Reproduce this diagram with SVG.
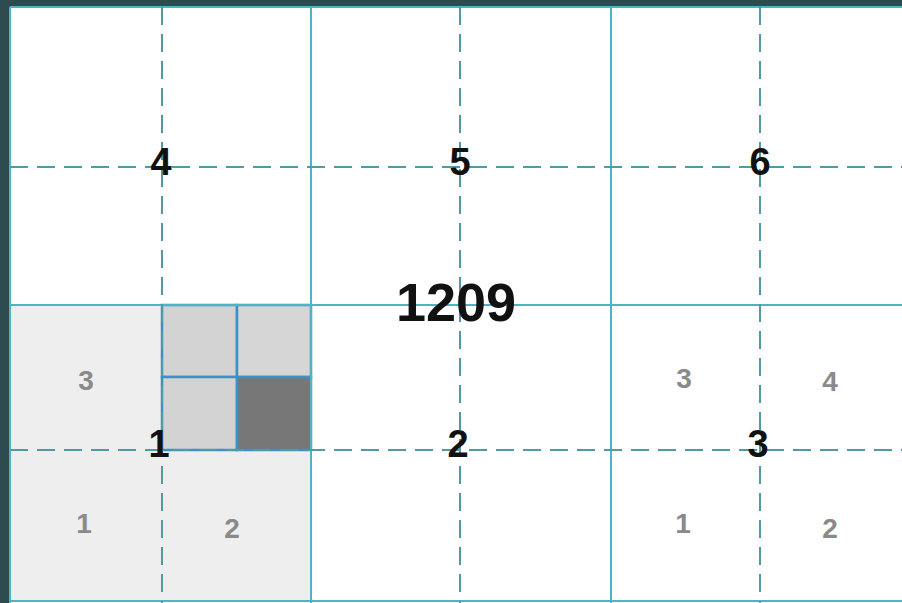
<svg xmlns="http://www.w3.org/2000/svg" width="902" height="603" viewBox="0 0 902 603">
<style>
.solid{stroke:#4fb3c6;stroke-width:2;fill:none}
.dash{stroke:#4f9aa3;stroke-width:2;stroke-dasharray:18 9;fill:none}
.big{font-family:"Liberation Sans",Arial,sans-serif;font-weight:bold;font-size:38px;fill:#111;text-anchor:middle}
.title{font-family:"Liberation Sans",Arial,sans-serif;font-weight:bold;font-size:54px;fill:#111;text-anchor:middle}
.small{font-family:"Liberation Sans",Arial,sans-serif;font-weight:bold;font-size:28px;fill:#8a8a8a;text-anchor:middle}
.sub{stroke:#3d8fc4;stroke-width:2.5}
</style>
<rect width="902" height="603" fill="#2e4c4f"/>
<rect x="10" y="7" width="892" height="596" fill="#ffffff"/>
<g id="shaded">
<rect x="10" y="305" width="301" height="296" fill="#eeeeee"/>
<g id="subgrid">
<rect class="sub" x="162" y="305" width="75" height="72" fill="#d3d3d3"/>
<rect class="sub" x="237" y="305" width="74" height="72" fill="#d6d6d6"/>
<rect class="sub" x="162" y="377" width="75" height="73" fill="#d3d3d3"/>
<rect class="sub" x="237" y="377" width="74" height="73" fill="#777777"/>
</g>
</g>
<g id="grid">
<line class="solid" x1="10" y1="7" x2="10" y2="603"/>
<line class="solid" x1="311" y1="7" x2="311" y2="603"/>
<line class="solid" x1="611" y1="7" x2="611" y2="603"/>
<line class="solid" x1="10" y1="305" x2="902" y2="305"/>
<line class="solid" x1="10" y1="601" x2="902" y2="601"/>
<line class="solid" x1="10" y1="7" x2="902" y2="7"/>
<line class="dash" x1="162" y1="7" x2="162" y2="603"/>
<line class="dash" x1="460" y1="7" x2="460" y2="603"/>
<line class="dash" x1="760" y1="7" x2="760" y2="603"/>
<line class="dash" x1="10" y1="167" x2="902" y2="167"/>
<line class="dash" x1="10" y1="450" x2="902" y2="450"/>
</g>
<g id="labels">
<text class="big" x="161" y="175">4</text>
<text class="big" x="460" y="175">5</text>
<text class="big" x="760" y="175">6</text>
<text class="big" x="159" y="457">1</text>
<text class="big" x="458" y="457">2</text>
<text class="big" x="758" y="457">3</text>
<text class="title" x="456" y="321">1209</text>
<text class="small" x="86" y="390">3</text>
<text class="small" x="84" y="533">1</text>
<text class="small" x="232" y="538">2</text>
<text class="small" x="684" y="388">3</text>
<text class="small" x="830" y="391">4</text>
<text class="small" x="683" y="533">1</text>
<text class="small" x="830" y="538">2</text>
</g>
</svg>
